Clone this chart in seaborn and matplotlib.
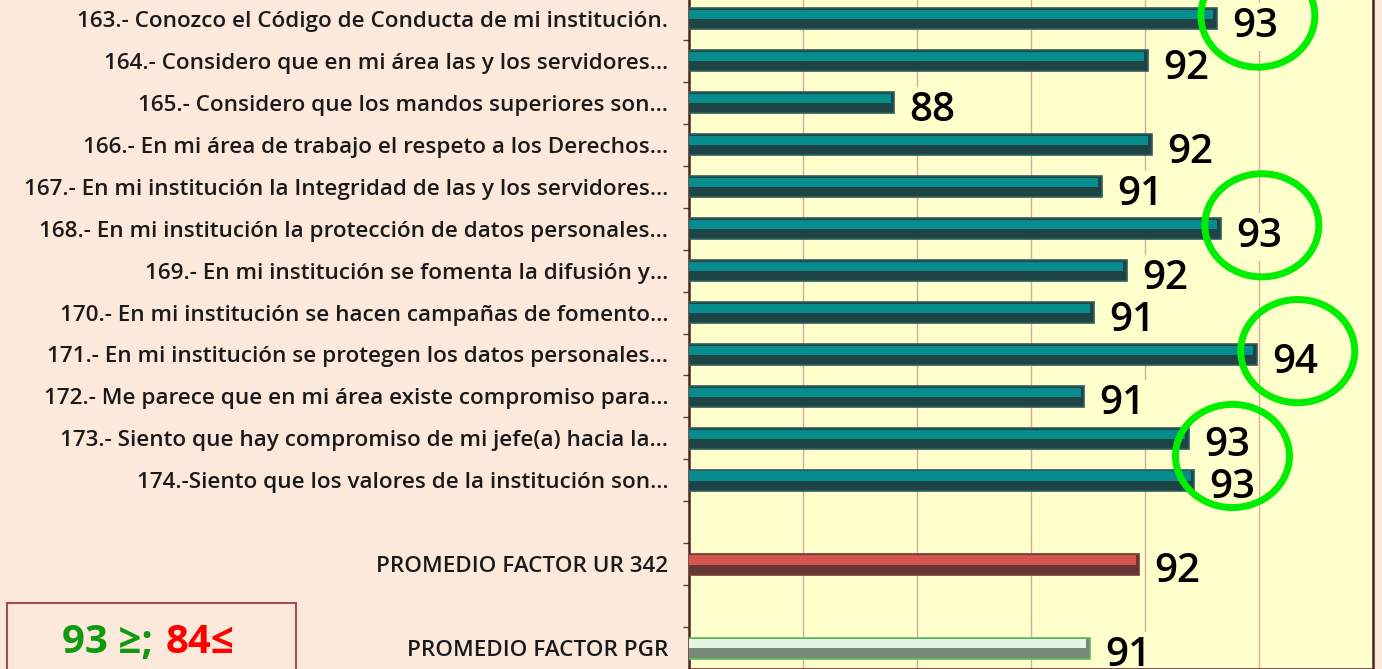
import numpy as np
import pandas as pd
import seaborn as sns
import matplotlib.pyplot as plt
from matplotlib.patches import Rectangle, Ellipse

preguntas = [
    "163.- Conozco el Código de Conducta de mi institución.",
    "164.- Considero que en mi área las y los servidores…",
    "165.- Considero que los mandos superiores son…",
    "166.- En mi área de trabajo el respeto a los Derechos…",
    "167.- En mi institución la Integridad de las y los servidores…",
    "168.- En mi institución la protección de datos personales…",
    "169.- En mi institución se fomenta la difusión y…",
    "170.- En mi institución se hacen campañas de fomento…",
    "171.- En mi institución se protegen los datos personales…",
    "172.- Me parece que en mi área existe compromiso para…",
    "173.- Siento que hay compromiso de mi jefe(a) hacia la…",
    "174.-Siento que los valores de la institución son…",
]
valores = [93.26, 92.05, 87.6, 92.12, 91.24, 93.33, 91.68, 91.1, 93.96, 90.93, 92.77, 92.86]

promedios = ["PROMEDIO FACTOR UR 342", "PROMEDIO FACTOR PGR"]
valores_prom = [91.9, 91.03]

# preguntas encerradas en circulo (indices de fila)
circulos = [[0], [5], [8], [10, 11]]

sns.set_style("white")
plt.rcParams['font.family'] = ['Open Sans', 'DejaVu Sans']

orden = preguntas + [" ", promedios[0], "  ", promedios[1]]
df = pd.DataFrame({"pregunta": preguntas + promedios, "valor": valores + valores_prom})

# colores: (oscuro, claro, borde)
teal = ("#184A4D", "#068C8C", "#2E5E60")
rojo = ("#6B2F2F", "#D4544F", "#7A3A36")
verde = ("#768C74", "#E4F6E2", "#5DBB5D")
colores = {p: teal for p in preguntas}
colores[promedios[0]] = rojo
colores[promedios[1]] = verde

fig = plt.figure(figsize=(13.82, 6.69), dpi=100)
fig.patch.set_facecolor("#FDE9DC")
ax = fig.add_axes([689 / 1382, 0.0, 684 / 1382, 671 / 669])
ax.set_facecolor("#FFFFCC")

sns.barplot(data=df, x="valor", y="pregunta", order=orden, hue="pregunta",
            palette={k: v[0] for k, v in colores.items()}, legend=False,
            width=0.5, ax=ax, zorder=3)

for p in list(ax.patches):
    fila = int(round(p.get_y() + p.get_height() / 2))
    if fila >= len(orden) or orden[fila].strip() == "":
        continue
    oscuro, claro, borde = colores[orden[fila]]
    p.set_edgecolor(borde)
    p.set_linewidth(1.2)
    x0, y0, w, h = p.get_x(), p.get_y(), p.get_width(), p.get_height()
    ax.add_patch(Rectangle((x0 + 0.04, y0 + 0.04), w - 0.1, h * 0.44,
                           facecolor=claro, edgecolor="none", zorder=3.5))

# etiquetas de valor
for i, (cat, v) in enumerate(zip(preguntas + promedios, valores + valores_prom)):
    y = orden.index(cat)
    ax.annotate(f"{round(v):.0f}", xy=(v, y), xytext=(11, -13), textcoords="offset points",
                ha="left", va="baseline", fontsize=29, fontweight="semibold", color="black",
                zorder=2.5,
                bbox=dict(boxstyle="square,pad=0.1", facecolor="#FFFFCC", edgecolor="none"))

# circulos verdes
for filas in circulos:
    cx = np.mean([valores[f] for f in filas]) + 0.72
    cy = np.mean(filas) - 0.08
    ax.add_patch(Ellipse((cx, cy), width=2.0, height=2.46, fill=False,
                         edgecolor="#00EE00", linewidth=5, zorder=5, clip_on=False))

ax.set_xlim(84, 96)
ax.set_ylim(15.5, -0.5)
ax.set_xticks([86, 88, 90, 92, 94])
ax.xaxis.grid(True, color="#DDA79E", linewidth=1)
ax.set_axisbelow(True)
ax.tick_params(axis="x", length=0, labelbottom=False)
ax.set_xlabel("")
ax.set_ylabel("")
ax.set_yticks(np.arange(0.5, 15, 1), minor=True)
ax.tick_params(axis="y", which="major", length=0, pad=15, labelcolor="#1A1A1A")
ax.tick_params(axis="y", which="minor", length=4.5, width=1, color="#444444", direction="out", left=True)
for t in ax.get_yticklabels():
    t.set_fontsize(16.2)
    t.set_fontweight("semibold")
for s in ax.spines.values():
    s.set_color("#4A2320")
    s.set_linewidth(1.8)
ax.spines["top"].set_visible(False)

# cuadro de rangos
fig.patches.append(Rectangle((7 / 1382, -0.05), 289 / 1382, 0.05 + 66 / 669, transform=fig.transFigure,
                             facecolor="none", edgecolor="#A34F4A", linewidth=1.5))
fig.text(153 / 1382, 16 / 669, "93 ≥;", ha="right", va="baseline", fontsize=29,
         fontweight="bold", color="#119A11")
fig.text(166 / 1382, 16 / 669, "84≤", ha="left", va="baseline", fontsize=29,
         fontweight="bold", color="#FF0000")

fig.savefig("out.png", dpi=100, facecolor=fig.get_facecolor())
